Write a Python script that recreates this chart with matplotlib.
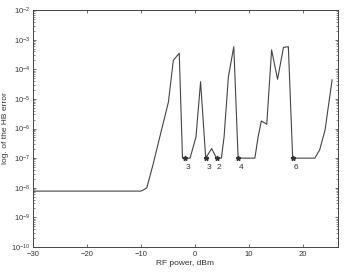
import matplotlib
matplotlib.use("Agg")
import matplotlib.pyplot as plt
from matplotlib.ticker import LogLocator, NullFormatter

# HB error vs RF power
rf_power = [-30, -10, -9.5, -8.9, -7.7, -6.5, -4.9, -4.0, -2.9, -2.3, -1.85, -0.9, 0.2, 1.05,
            2.0, 3.1, 4.0, 4.9, 5.4, 6.2, 7.2, 8.0, 11.1, 11.7, 12.3, 13.3, 14.2, 15.3,
            16.4, 17.3, 18.1, 22.2, 23.1, 24.1, 25.4]
hb_error = [7.7e-9, 7.7e-9, 8.5e-9, 1.0e-8, 6.6e-8, 5.2e-7, 7.9e-6, 2.0e-4, 3.5e-4, 1e-7, 1e-7,
            1e-7, 5.2e-7, 3.8e-5, 1e-7, 2.1e-7, 1e-7, 1e-7, 5.2e-7, 5.6e-5, 5.8e-4, 1e-7,
            1e-7, 5.2e-7, 1.8e-6, 1.4e-6, 4.5e-4, 4.6e-5, 5.5e-4, 5.8e-4, 1e-7, 1e-7,
            1.9e-7, 9e-7, 4.4e-5]

# marked points and their labels
mark_x = [-1.85, 2.0, 4.0, 8.0, 18.1]
mark_y = [1e-7, 1e-7, 1e-7, 1e-7, 1e-7]
mark_labels = ["3", "3", "2", "4", "6"]

plt.rcParams['font.family'] = ['Liberation Sans', 'DejaVu Sans']

fig = plt.figure(figsize=(3.46, 2.72), dpi=100)
ax = fig.add_axes([0.095, 0.092, 0.882, 0.871])

ax.semilogy(rf_power, hb_error, color="#444444", lw=0.8)
ax.plot(mark_x, mark_y, ls="none", marker="*", ms=3.5, color="#333333")
for x, y, t in zip(mark_x, mark_y, mark_labels):
    ax.annotate(t, (x, y), xytext=(2, -4), textcoords="offset points",
                ha="center", va="top", fontsize=6, color="#333333")

ax.set_xlim(-30, 26.5)
ax.set_ylim(1e-10, 1e-2)
ax.set_xticks([-30, -20, -10, 0, 10, 20])
ax.yaxis.set_major_locator(LogLocator(base=10, numticks=20))
ax.yaxis.set_minor_locator(LogLocator(base=10, subs=range(2, 10), numticks=20))
ax.yaxis.set_minor_formatter(NullFormatter())
ax.tick_params(which="both", direction="in", top=True, right=True,
               labelsize=5.5, colors="#333333", pad=2)
ax.tick_params(axis="x", pad=3)
ax.tick_params(which="major", length=2.5, width=0.5)
ax.tick_params(which="minor", length=1.2, width=0.4)
for s in ax.spines.values():
    s.set_linewidth(0.7)
    s.set_color("#444444")

ax.set_xlabel("RF power, dBm", fontsize=6, color="#333333", labelpad=1)
ax.set_ylabel("log. of the HB error", fontsize=6, color="#333333", labelpad=1)

fig.savefig("out.png", dpi=100)
